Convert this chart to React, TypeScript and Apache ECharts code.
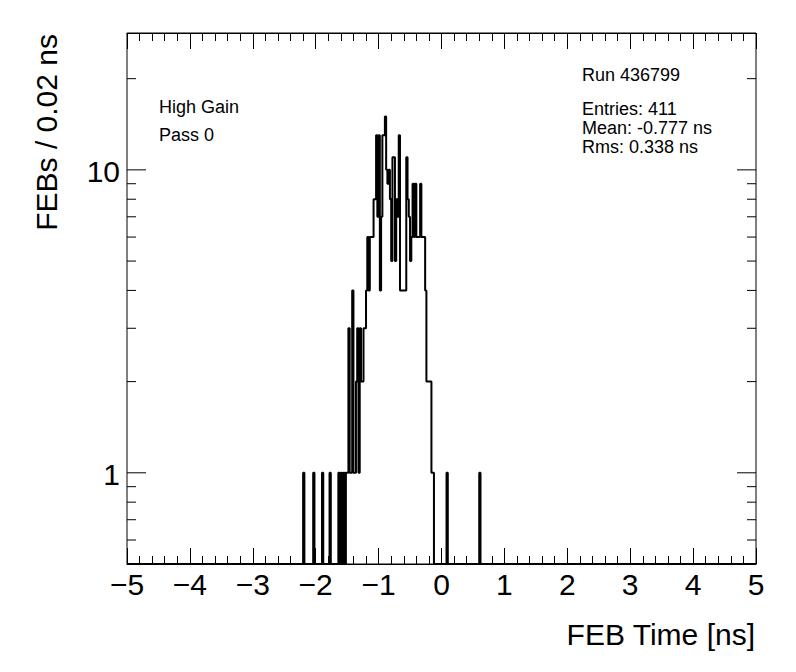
import React, { useEffect, useRef } from "react";
import * as echarts from "echarts";

// ---- data ----
const binWidth = 0.02; // ns
const firstBinLow = -2.2; // lower edge of the first listed bin
// FEB counts per 0.02 ns bin, starting at -2.20 ns
const counts = [
  1, 0, 0, 0, 0, 0, 0, 0, 1, 0, // -2.20
  0, 0, 0, 0, 0, 1, 0, 0, 0, 0, // -2.00
  0, 1, 0, 0, 0, 0, 0, 0, 1, 0, // -1.80
  1, 0, 1, 0, 1, 1, 3, 1, 1, 4, // -1.60
  1, 1, 2, 3, 1, 3, 2, 2, 3, 3, // -1.40
  4, 6, 4, 6, 6, 6, 8, 8, 13, 7, // -1.20
  13, 4, 7, 13, 13, 15, 10, 9, 10, 8, // -1.00
  5, 11, 11, 5, 8, 7, 13, 4, 4, 4, // -0.80
  4, 4, 11, 8, 7, 5, 6, 9, 6, 9, // -0.60
  6, 6, 6, 9, 6, 6, 6, 4, 2, 2, // -0.40
  2, 2, 1, 1, 0, 0, 0, 0, 0, 0, // -0.20
  0, 0, 0, 0, 1, 0, 0, 0, 0, 0, // 0.00
  0, 0, 0, 0, 0, 0, 0, 0, 0, 0, // 0.20
  0, 0, 0, 0, 0, 0, 0, 0, 0, 0, // 0.40
  1, // 0.60
];
const xRange = [-5, 5];
const yRange = [0.5, 28.3];
const yMajorTicks = [1, 10];
const yMinorTicks = [0.6, 0.7, 0.8, 0.9, 2, 3, 4, 5, 6, 7, 8, 9, 20];
const xTitle = "FEB Time [ns]";
const yTitle = "FEBs / 0.02 ns";
const infoLines = ["High Gain", "Pass 0"];
const runLine = "Run 436799";
const statsLines = ["Entries: 411", "Mean: -0.777 ns", "Rms: 0.338 ns"];

const FONT = "'Liberation Sans', Arial, Helvetica, sans-serif";

export default function App() {
  const ref = useRef<HTMLDivElement>(null);
  useEffect(() => {
    if (!ref.current) return;
    const chart = echarts.init(ref.current, null, { renderer: "svg" });

    const floor = yRange[0];
    const pts: number[][] = [[xRange[0], floor], [firstBinLow, floor]];
    counts.forEach((c, i) => {
      const lo = +(firstBinLow + i * binWidth).toFixed(4);
      const hi = +(lo + binWidth).toFixed(4);
      const v = c > 0 ? c : floor;
      pts.push([lo, v], [hi, v]);
    });
    const lastHi = +(firstBinLow + counts.length * binWidth).toFixed(4);
    pts.push([lastHi, floor], [xRange[1], floor]);

    const grid = { left: 127, top: 33, right: 40, bottom: 108 };
    const xAxisBase = (pos: "top" | "bottom", showLabel: boolean) => ({
      type: "value" as const,
      position: pos,
      min: xRange[0],
      max: xRange[1],
      interval: 1,
      axisLine: { show: true, onZero: false, lineStyle: { color: "#000", width: 1 } },
      axisTick: { show: true, inside: true, length: 16, lineStyle: { color: "#000", width: 1 } },
      minorTick: { show: true, splitNumber: 5, length: 8, lineStyle: { color: "#000", width: 1 } },
      splitLine: { show: false },
      minorSplitLine: { show: false },
      axisLabel: {
        show: showLabel,
        formatter: (v: number) => String(v).replace("-", "\u2212"),
        fontSize: 30,
        fontFamily: FONT,
        color: "#000",
        margin: 5,
      },
    });

    chart.setOption({
      animation: false,
      backgroundColor: "#fff",
      grid: { ...grid, show: true, borderColor: "#000", borderWidth: 1, backgroundColor: "transparent" },
      xAxis: [xAxisBase("bottom", true), xAxisBase("top", false)],
      yAxis: {
        type: "log",
        logBase: 10,
        min: yRange[0],
        max: yRange[1],
        axisLine: { show: false, onZero: false },
        axisTick: { show: false },
        axisLabel: { show: false },
        splitLine: { show: false },
      },
      series: [
        {
          type: "line",
          xAxisIndex: 0,
          yAxisIndex: 0,
          data: pts,
          showSymbol: false,
          clip: true,
          lineStyle: { color: "#000", width: 2 },
          silent: true,
        },
      ],
    });

    const xl = 127;
    const xr = 756;
    const g: any[] = [];
    const tick = (v: number, len: number) => {
      const y = chart.convertToPixel({ yAxisIndex: 0 }, v) as number;
      g.push({
        type: "line",
        shape: { x1: xl, y1: y, x2: xl + len, y2: y },
        style: { stroke: "#000", lineWidth: 1 },
      });
      g.push({
        type: "line",
        shape: { x1: xr, y1: y, x2: xr - len, y2: y },
        style: { stroke: "#000", lineWidth: 1 },
      });
      return y;
    };
    yMajorTicks.forEach((v) => {
      const y = tick(v, 19);
      g.push({
        type: "text",
        style: {
          text: String(v),
          x: xl - 7,
          y: y + 2,
          font: `30px ${FONT}`,
          fill: "#000",
          textAlign: "right",
          align: "right",
          textVerticalAlign: "middle",
          verticalAlign: "middle",
        },
      });
    });
    yMinorTicks.forEach((v) => tick(v, 9));

    const txt = (text: string, x: number, y: number, size: number, align = "left", rotation = 0) => ({
      type: "text",
      x,
      y,
      rotation,
      style: {
        text,
        x: 0,
        y: 0,
        font: `${size}px ${FONT}`,
        fill: "#000",
        textAlign: align,
        align,
        textVerticalAlign: "middle",
        verticalAlign: "middle",
      },
    });
    g.push(txt(xTitle, 755, 634, 30, "right"));
    g.push(txt(yTitle, 46, 34, 30, "right", Math.PI / 2));
    infoLines.forEach((t, i) => g.push(txt(t, 159, 107 + i * 28, 18)));
    g.push(txt(runLine, 582, 75, 18));
    statsLines.forEach((t, i) => g.push(txt(t, 582, 109 + i * 19, 18)));

    chart.setOption({ graphic: g });

    return () => chart.dispose();
  }, []);
  return (
    <div
      ref={ref}
      style={{ position: "fixed", left: 0, top: 0, width: 796, height: 672, background: "#fff" }}
    />
  );
}
